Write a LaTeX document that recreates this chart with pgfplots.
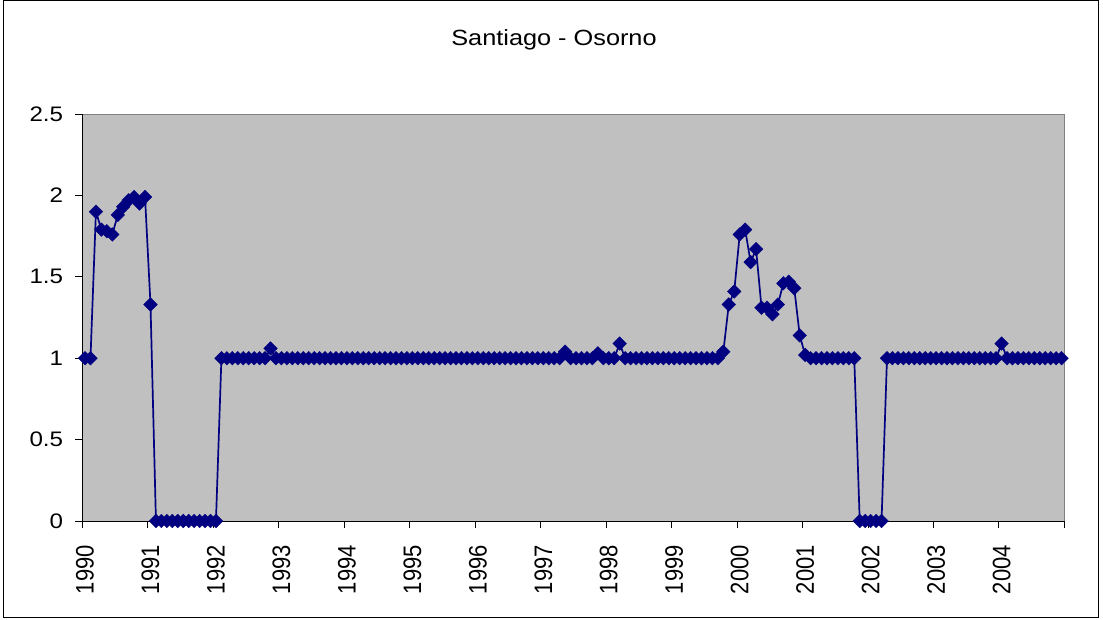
\documentclass[border=0pt]{standalone}
\usepackage{graphicx}
\usepackage{fontspec}
\setmainfont{Liberation Sans}
\usepackage{pgfplots}
\pgfplotsset{compat=1.18}
\definecolor{plotgray}{HTML}{C0C0C0}
\definecolor{navyline}{HTML}{000080}
\newcommand\hs[1]{\scalebox{1.15}[1]{#1}}
\newcommand\vs[1]{\scalebox{1}[1.15]{#1}}
\begin{document}
\begin{tikzpicture}
\useasboundingbox (0,0) rectangle (1103pt,619pt);
\draw[black,line width=1pt] (3pt,2pt) rectangle (1098pt,618pt);
\node[font=\fontsize{22}{26}\selectfont] at (554pt,579pt) {\hs{Santiago - Osorno}};
\begin{axis}[
  at={(82.3pt,98pt)}, anchor=south west,
  width=982pt, height=407pt, scale only axis,
  xmin=-0.5, xmax=179.5, ymin=0, ymax=2.5,
  axis x line*=bottom, axis y line*=left,
  axis line style={black,line width=0.8pt},
  axis background/.style={fill=plotgray,draw=gray,line width=0.8pt},
  tick align=outside,
  major tick length=7pt, minor tick length=7pt,
  tick style={black,line width=0.8pt},
  xtick={0,12,...,168},
  xticklabels={\vs{1990},\vs{1991},\vs{1992},\vs{1993},\vs{1994},\vs{1995},\vs{1996},\vs{1997},\vs{1998},\vs{1999},\vs{2000},\vs{2001},\vs{2002},\vs{2003},\vs{2004}},
  major x tick style={draw=none},
  minor xtick={-0.5,11.5,...,179.5},
  xticklabel style={rotate=90,anchor=east,font=\fontsize{22}{26}\selectfont,inner sep=0pt,xshift=-17pt},
  ytick={0,0.5,1,1.5,2,2.5},
  yticklabels={\hs{0},\hs{0.5},\hs{1},\hs{1.5},\hs{2},\hs{2.5}},
  yticklabel style={anchor=east,font=\fontsize{21}{25}\selectfont,inner sep=0pt,xshift=-12pt},
  clip=false,
]
\addplot[navyline,line width=1.7pt,mark=square*,mark size=4.8pt,
  mark options={rotate=45,solid,fill=navyline,draw=navyline,line width=0.4pt}]
coordinates {
(0,1)(1,1)(2,1.90)(3,1.79)(4,1.78)(5,1.76)(6,1.88)(7,1.93)(8,1.97)(9,1.99)(10,1.95)(11,1.99)
(12,1.33)(13,0)(14,0)(15,0)(16,0)(17,0)(18,0)(19,0)(20,0)(21,0)(22,0)(23,0)
(24,0)(25,1)(26,1)(27,1)(28,1)(29,1)(30,1)(31,1)(32,1)(33,1)(34,1.06)(35,1)
(36,1)(37,1)(38,1)(39,1)(40,1)(41,1)(42,1)(43,1)(44,1)(45,1)(46,1)(47,1)
(48,1)(49,1)(50,1)(51,1)(52,1)(53,1)(54,1)(55,1)(56,1)(57,1)(58,1)(59,1)
(60,1)(61,1)(62,1)(63,1)(64,1)(65,1)(66,1)(67,1)(68,1)(69,1)(70,1)(71,1)
(72,1)(73,1)(74,1)(75,1)(76,1)(77,1)(78,1)(79,1)(80,1)(81,1)(82,1)(83,1)
(84,1)(85,1)(86,1)(87,1)(88,1.04)(89,1)(90,1)(91,1)(92,1)(93,1)(94,1.03)(95,1)
(96,1)(97,1)(98,1.09)(99,1)(100,1)(101,1)(102,1)(103,1)(104,1)(105,1)(106,1)(107,1)
(108,1)(109,1)(110,1)(111,1)(112,1)(113,1)(114,1)(115,1)(116,1)(117,1.04)(118,1.33)(119,1.41)
(120,1.76)(121,1.79)(122,1.59)(123,1.67)(124,1.31)(125,1.31)(126,1.27)(127,1.33)(128,1.46)(129,1.47)(130,1.43)(131,1.14)
(132,1.02)(133,1)(134,1)(135,1)(136,1)(137,1)(138,1)(139,1)(140,1)(141,1)(142,0)(143,0)
(144,0)(145,0)(146,0)(147,1)(148,1)(149,1)(150,1)(151,1)(152,1)(153,1)(154,1)(155,1)
(156,1)(157,1)(158,1)(159,1)(160,1)(161,1)(162,1)(163,1)(164,1)(165,1)(166,1)(167,1)
(168,1.09)(169,1)(170,1)(171,1)(172,1)(173,1)(174,1)(175,1)(176,1)(177,1)(178,1)(179,1)
};
\end{axis}
\end{tikzpicture}
\end{document}
